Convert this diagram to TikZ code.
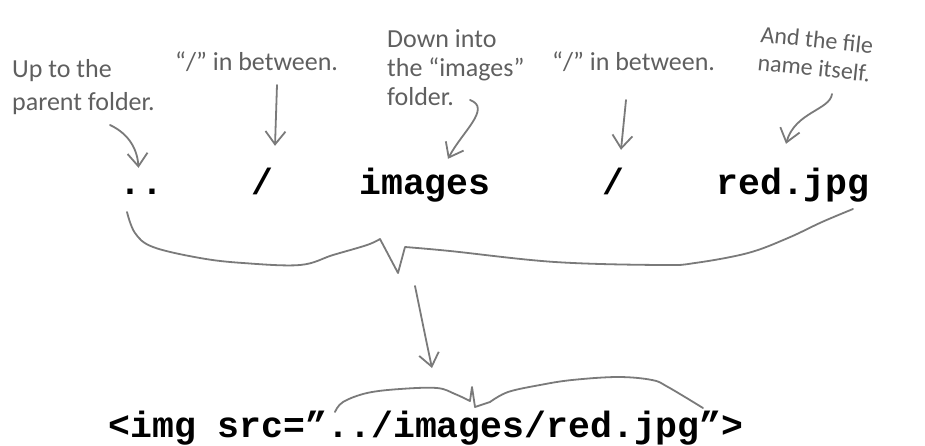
\documentclass[tikz,border=0pt]{standalone}
\usepackage{fontspec}
\setmainfont{Carlito}
\newfontfamily\codefont{Liberation Mono}
\usetikzlibrary{positioning, arrows.meta, calc}

\definecolor{notegray}{RGB}{95,95,95}
\definecolor{linegray}{RGB}{122,122,122}

\begin{document}
\begin{tikzpicture}[
  x=1pt, y=-1pt,
  % Text styles
  note/.style={font=\fontsize{26}{29}\selectfont, text=notegray, align=left, inner sep=0pt, anchor=base west},
  code/.style={font=\codefont\bfseries\fontsize{36.5}{40}\selectfont, inner sep=0pt, text height=26pt, text depth=7pt, anchor=base},
  % Line styles
  pointer/.style={draw=linegray, line width=1.8pt, line cap=round, line join=round, -{Straight Barb[length=13pt, width=20pt]}},
  brace/.style={draw=linegray, line width=1.8pt, line cap=round, line join=round}
]
  \useasboundingbox (0,0) rectangle (925,445);

  % ==========================================
  % PATH PARTS
  % ==========================================
  \node[code] (dots)   at (141.5,194) {..};
  \node[code] (slashA) at (262,194) {/};
  \node[code] (images) at (425,194) {images};
  \node[code] (slashB) at (613,194) {/};
  \node[code] (red)    at (793,194) {red.jpg};

  % ==========================================
  % NOTES (placed at the baseline of their last line)
  % ==========================================
  \node[note, font=\fontsize{26}{33}\selectfont] (upnote) at (12,110) {Up to the\\parent folder.};
  \node[note] (slashAnote) at (175,70) {“/” in between.};
  \node[note] (downnote) at (387,105) {Down into\\the “images”\\folder.};
  \node[note] (slashBnote) at (552,70) {“/” in between.};
  \node[note, font=\fontsize{24}{28}\selectfont, rotate=-6] (filenote) at (757,70) {And the file\\name itself.};

  % Arrow tails under the notes
  \coordinate (upTail)     at (110,125);
  \coordinate (slashATail) at (277,85);
  \coordinate (downTail)   at (470,100);
  \coordinate (slashBTail) at (626,100);
  \coordinate (fileTail)   at (832,94);

  \draw[pointer] (upTail) .. controls (125,132) and (137,145) .. ([xshift=-3pt]dots.north);
  \draw[pointer] (slashATail) -- ([xshift=13pt, yshift=22pt]slashA.north);
  \draw[pointer] (downTail) .. controls (492,108) and (462,132) .. ([xshift=23pt, yshift=9pt]images.north);
  \draw[pointer] (slashBTail) -- ([xshift=8pt, yshift=18pt]slashB.north);
  \draw[pointer] (fileTail) .. controls (830,110) and (795,112) .. ([xshift=-7pt, yshift=24pt]red.north);

  % ==========================================
  % BRACE UNDER THE PARTS
  % ==========================================
  \coordinate (topPoint) at (398,273);
  \draw[brace] plot[smooth, tension=0.6] coordinates {(127,212) (135,233) (153,247) (200,258) (243,263) (300,265) (333,255) (367,245) (380,239)}
    -- (topPoint) -- (405,247)
    -- plot[smooth, tension=0.6] coordinates {(405,247) (450,251) (555,262) (662,265) (695,263) (748,253) (788,238) (822,222) (853,209)};

  % ==========================================
  % FULL TAG
  % ==========================================
  \node[code] (tag) at (426,437) {<img src=”../images/red.jpg”>};

  \coordinate (tagPoint) at (472,387);
  \draw[brace] plot[smooth, tension=0.6] coordinates {(335,412) (343,402) (367,393) (400,389) (437,388) (455,394) (470,401)}
    -- (tagPoint) -- (475,407) -- (490,402)
    -- plot[smooth, tension=0.6] coordinates {(490,402) (508,392) (540,385) (572,380) (618,377) (652,380) (668,387) (703,408)};

  \draw[pointer] ([xshift=17pt, yshift=-13pt]topPoint) .. controls (422,320) and (426,340) .. ([xshift=-40pt, yshift=19pt]tagPoint);

\end{tikzpicture}
\end{document}
